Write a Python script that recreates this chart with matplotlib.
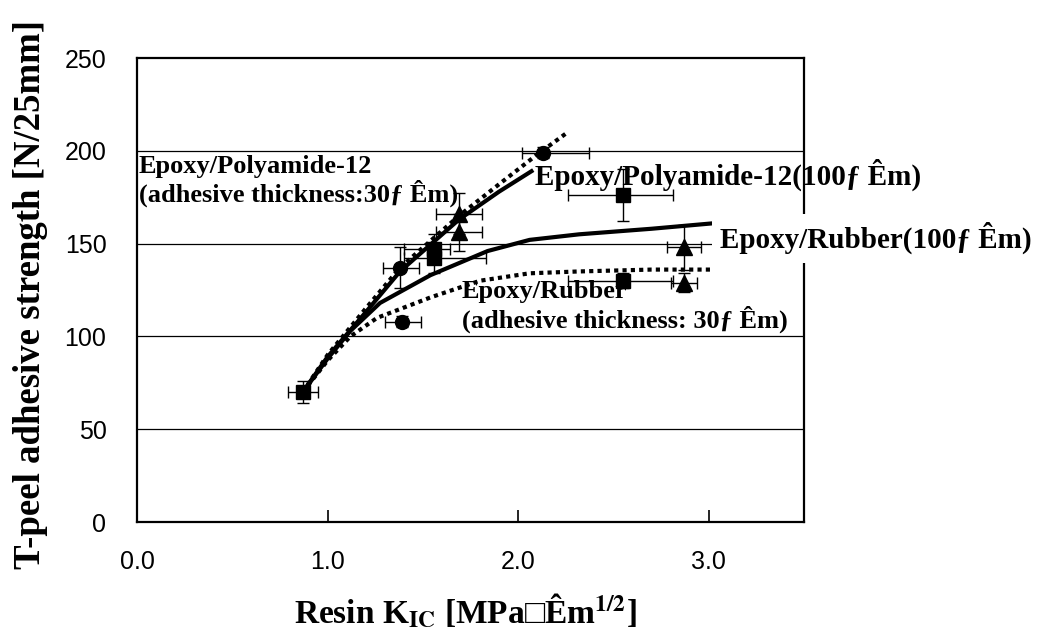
import numpy as np
import matplotlib
matplotlib.use("Agg")
import matplotlib.pyplot as plt

plt.rcParams['mathtext.fontset'] = 'stix'

# measured points (Resin KIC, T-peel strength)
sq_x = [0.87, 1.56, 1.56, 2.55, 2.55]
sq_y = [70, 147, 142, 176, 130]
sq_xerr = [[0.08, 0.16, 0.16, 0.29, 0.29], [0.08, 0.08, 0.27, 0.26, 0.26]]
sq_yerr = [6, 8, 8, 14, 4]

ci_x = [1.38, 1.39, 2.13]
ci_y = [137, 108, 199]
ci_xerr = [[0.09, 0.09, 0.11], [0.10, 0.10, 0.24]]
ci_yerr = [11, 3, 3]

tr_x = [1.69, 1.69, 2.87, 2.87]
tr_y = [166, 156, 148, 129]
tr_xerr = [0.12, 0.12, 0.09, 0.07]
tr_yerr = [11, 10, 12, 5]

# trend curves
pa100_x = [0.87, 1.0, 1.2, 1.38, 1.69, 1.9, 2.07]
pa100_y = [70, 89, 113, 135, 163, 178, 189]
pa30_x = [0.87, 1.0, 1.2, 1.38, 1.69, 1.9, 2.1, 2.26]
pa30_y = [70, 90, 115, 137, 165, 182, 198, 210]
rb100_x = [0.87, 1.0, 1.12, 1.275, 1.54, 1.84, 2.06, 2.32, 2.7, 3.03]
rb100_y = [70, 88, 103, 118, 133, 146, 152, 155, 158, 161]
rb30_x = [0.87, 1.0, 1.12, 1.26, 1.54, 1.8, 2.06, 2.32, 2.7, 3.02]
rb30_y = [70, 87, 100, 110, 121, 130, 134, 135, 136, 136]

xticks = [0.0, 1.0, 2.0, 3.0]
xlabels = ['0.0', '1.0', '2.0', '3.0']
yticks = [0, 50, 100, 150, 200, 250]

serif = ['Liberation Serif', 'DejaVu Serif']

fig = plt.figure(figsize=(10.38, 6.31), dpi=100)
ax = fig.add_axes([137/1038, 1 - 522/631, (804-137)/1038, (522-58)/631])

ax.set_xlim(0, 3.5)
ax.set_ylim(0, 250)
for y in yticks[1:-1]:
    ax.axhline(y, color='black', lw=0.9, zorder=1)

ax.plot(pa100_x, pa100_y, color='black', lw=3, solid_joinstyle='round', zorder=3)
ax.plot(rb100_x, rb100_y, color='black', lw=3, solid_joinstyle='round', zorder=3)
ax.plot(pa30_x, pa30_y, color='black', lw=3, linestyle=(0, (1, 1)),
        dash_capstyle='butt', zorder=3)
ax.plot(rb30_x, rb30_y, color='black', lw=3, linestyle=(0, (1, 1)),
        dash_capstyle='butt', zorder=3)

ebkw = dict(color='black', ecolor='black', elinewidth=1, capsize=4.5,
            capthick=1, linestyle='none', zorder=4)
ax.errorbar(sq_x, sq_y, xerr=sq_xerr, yerr=sq_yerr, marker='s', ms=10, **ebkw)
ax.errorbar(ci_x, ci_y, xerr=ci_xerr, yerr=ci_yerr, marker='o', ms=10, **ebkw)
ax.errorbar(tr_x, tr_y, xerr=tr_xerr, yerr=tr_yerr, marker='^', ms=12, **ebkw)

ax.set_xticks(xticks)
ax.set_xticklabels(xlabels)
ax.set_yticks(yticks)
ax.tick_params(axis='x', direction='in', length=9, width=1.2, pad=20,
               labelsize=18)
ax.tick_params(axis='y', direction='in', length=0, pad=22, labelsize=18)
for lab in ax.get_xticklabels() + ax.get_yticklabels():
    lab.set_family('Liberation Sans')
for s in ax.spines.values():
    s.set_linewidth(1.6)

ax.set_ylabel('T-peel adhesive strength [N/25mm]', family=serif,
              fontweight='bold', fontsize=26.5)
ax.yaxis.set_label_coords(-0.133, 0.49)
ax.set_xlabel(r'Resin K$_{\mathbf{IC}}$ [MPa' + '\u25a1' + r'Êm$^{\mathbf{1/2}}$]',
              family=serif, fontweight='bold', fontsize=24)
ax.xaxis.set_label_coords(0.492, -0.15)

tkw = dict(family=serif, fontweight='bold', va='baseline', ha='left', zorder=5)
ax.text(0.01, 188, 'Epoxy/Polyamide-12', fontsize=19, **tkw)
ax.text(0.01, 172.4, '(adhesive thickness:30ƒ Êm)', fontsize=19, **tkw)
ax.text(2.09, 181.6, 'Epoxy/Polyamide-12(100ƒ Êm)', fontsize=21,
        clip_on=False, **tkw)
ax.text(3.06, 147.6, 'Epoxy/Rubber(100ƒ Êm)', fontsize=21, clip_on=False,
        bbox=dict(facecolor='white', edgecolor='none', pad=6), **tkw)
ax.text(1.705, 120.7, 'Epoxy/Rubber', fontsize=19, **tkw)
ax.text(1.705, 104.5, '(adhesive thickness: 30ƒ Êm)', fontsize=19, **tkw)

fig.savefig('out.png', dpi=100)
